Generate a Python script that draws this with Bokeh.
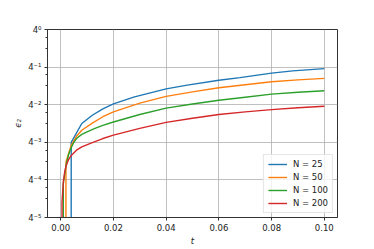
import numpy as np
from bokeh.plotting import figure
from bokeh.models import FixedTicker, CustomJSTickFormatter, NumeralTickFormatter, Range1d
from bokeh.embed import file_html
from bokeh.resources import INLINE

# ---- data (e2 error vs time t) ----
t_25 = [0.0, 0.004, 0.008, 0.012, 0.016, 0.02, 0.028, 0.04, 0.048, 0.06, 0.068, 0.08, 0.088, 0.1]
e_25 = [0.0, 0.015625, 0.03125, 0.04240, 0.05367, 0.06425, 0.08360, 0.11189, 0.12853,
        0.15389, 0.16958, 0.20029, 0.21764, 0.23650]

t_50 = [0.0, 0.002, 0.004, 0.006, 0.008, 0.012, 0.016, 0.02, 0.03, 0.04, 0.05, 0.06,
        0.07, 0.08, 0.09, 0.1]
e_50 = [0.0, 0.007597, 0.013983, 0.019505, 0.024349, 0.031686, 0.040113, 0.048022,
        0.066066, 0.084799, 0.10013, 0.11662, 0.13032, 0.14558, 0.15603, 0.16494]

t_100 = [0.0, 0.001, 0.002, 0.003, 0.004, 0.005, 0.006, 0.008, 0.01, 0.013, 0.016, 0.02,
         0.03, 0.04, 0.05, 0.06, 0.07, 0.08, 0.09, 0.1]
e_100 = [0.0, 0.003401, 0.006614, 0.009887, 0.012867, 0.015625, 0.017948, 0.020907,
         0.023037, 0.026094, 0.029157, 0.033032, 0.043594, 0.055181, 0.06425, 0.073808,
         0.082469, 0.092145, 0.098780, 0.104409]

t_200 = [0.0, 0.0005, 0.001, 0.0015, 0.002, 0.003, 0.004, 0.006, 0.008, 0.012, 0.016,
         0.02, 0.03, 0.04, 0.05, 0.06, 0.07, 0.08, 0.09, 0.1]
e_200 = [0.0, 0.001701, 0.003646, 0.005155, 0.006434, 0.008256, 0.009618, 0.011677,
         0.013228, 0.015409, 0.017948, 0.020336, 0.026094, 0.032576, 0.037943, 0.043594,
         0.048022, 0.052214, 0.055947, 0.059136]

series_labels = ["N = 25", "N = 50", "N = 100", "N = 200"]
series_colors = ["#1f77b4", "#ff7f0e", "#2ca02c", "#d62728"]

x_ticks = [0.0, 0.02, 0.04, 0.06, 0.08, 0.10]
y_exponents = [-5, -4, -3, -2, -1, 0]
y_base = 4

FONT = "DejaVu Sans"
FS = "8.5px"

p = figure(width=374, height=249, output_backend="svg", toolbar_location=None,
           y_axis_type="log",
           x_range=Range1d(-0.005, 0.105),
           y_range=Range1d(float(y_base) ** y_exponents[0], float(y_base) ** y_exponents[-1]),
           min_border_left=47, min_border_right=37, min_border_top=29, min_border_bottom=32,
           background_fill_color="white", border_fill_color="white")

# log-scale clipping of non-positive values (like matplotlib's 'clip')
floor = 1e-300
for t, e, lab, col in zip([t_25, t_50, t_100, t_200], [e_25, e_50, e_100, e_200],
                          series_labels, series_colors):
    y = np.where(np.array(e) > 0, np.array(e), floor)
    p.line(t, y, line_color=col, line_width=1.4, legend_label=lab)

# ticks
y_major = [float(y_base) ** k for k in y_exponents]
y_minor = [m * float(y_base) ** k for k in y_exponents[:-1] for m in (2, 3)]
p.yaxis.ticker = FixedTicker(ticks=y_major, minor_ticks=y_minor)
p.yaxis.formatter = CustomJSTickFormatter(code="""
const sup = {"0":"\u2070","1":"\u00b9","2":"\u00b2","3":"\u00b3","4":"\u2074",
             "5":"\u2075","6":"\u2076","7":"\u2077","8":"\u2078","9":"\u2079","-":"\u207b"};
const e = Math.round(Math.log(tick) / Math.log(4));
return "4" + String(e).split("").map(c => sup[c]).join("");
""")
p.xaxis.ticker = FixedTicker(ticks=x_ticks)
p.xaxis.formatter = NumeralTickFormatter(format="0.00")

for ax in (p.xaxis, p.yaxis):
    ax.major_label_text_font = FONT
    ax.major_label_text_font_size = FS
    ax.major_label_text_color = "#222222"
    ax.axis_label_text_font = FONT
    ax.axis_label_text_font_size = FS
    ax.axis_label_text_font_style = "italic"
    ax.axis_label_text_color = "#222222"
    ax.axis_line_color = "#333333"
    ax.axis_line_width = 1
    ax.major_tick_line_color = "#333333"
    ax.major_tick_in = 0
    ax.major_tick_out = 3
    ax.minor_tick_line_color = "#333333"
    ax.minor_tick_in = 0
    ax.minor_tick_out = 2
    ax.major_label_standoff = 3
    ax.axis_label_standoff = 2

p.xaxis.minor_tick_line_color = None
p.xaxis.axis_label = "t"
p.yaxis.axis_label = "\u03f5\u2082"

p.grid.grid_line_color = "#b0b0b0"
p.grid.grid_line_width = 0.8
p.ygrid.minor_grid_line_color = None

p.outline_line_color = "#333333"
p.outline_line_width = 1

lg = p.legend[0]
lg.location = "bottom_right"
lg.margin = 4
lg.padding = 4
lg.spacing = 3
lg.label_height = 10
lg.glyph_height = 10
lg.glyph_width = 19
lg.label_standoff = 6
lg.label_text_font = FONT
lg.label_text_font_size = FS
lg.label_text_color = "#222222"
lg.border_line_color = "#cccccc"
lg.border_line_width = 1
lg.background_fill_alpha = 0.8

with open("out.html", "w", encoding="utf-8") as f:
    f.write(file_html(p, INLINE))
